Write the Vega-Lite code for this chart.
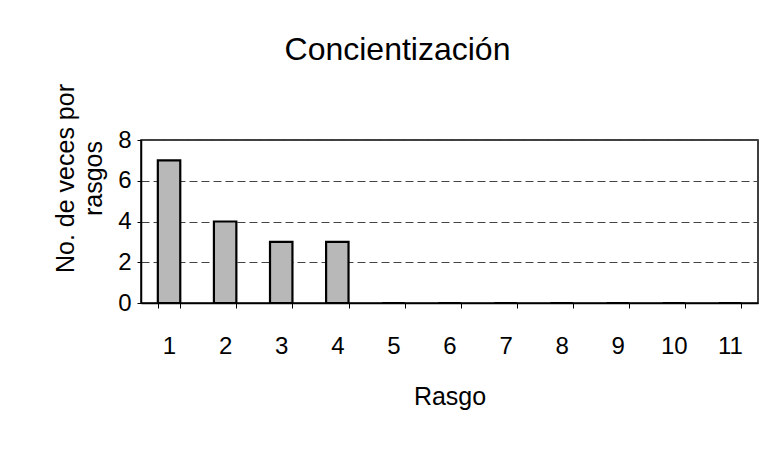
{
  "$schema": "https://vega.github.io/schema/vega-lite/v6.json",
  "autosize": "none",
  "padding": {"left": 141, "top": 140, "right": 11, "bottom": 148},
  "width": 617,
  "height": 163,
  "background": "white",
  "title": {
    "text": "Concientización",
    "font": "Liberation Sans",
    "fontSize": 32,
    "fontWeight": "normal",
    "color": "black",
    "anchor": "middle",
    "dx": -52,
    "offset": 17
  },
  "config": {
    "view": {"stroke": "black", "strokeWidth": 1.5},
    "axis": {
      "labelFont": "Liberation Sans",
      "titleFont": "Liberation Sans",
      "labelColor": "black",
      "titleColor": "black",
      "domainColor": "black",
      "tickColor": "black"
    }
  },
  "data": {
    "values": [
      {"rasgo": 1, "veces": 7},
      {"rasgo": 2, "veces": 4},
      {"rasgo": 3, "veces": 3},
      {"rasgo": 4, "veces": 3},
      {"rasgo": 5, "veces": 0},
      {"rasgo": 6, "veces": 0},
      {"rasgo": 7, "veces": 0},
      {"rasgo": 8, "veces": 0},
      {"rasgo": 9, "veces": 0},
      {"rasgo": 10, "veces": 0},
      {"rasgo": 11, "veces": 0}
    ]
  },
  "mark": {"type": "bar", "fill": "#b8b8b8", "stroke": "black", "strokeWidth": 2.2},
  "encoding": {
    "x": {
      "field": "rasgo",
      "type": "ordinal",
      "scale": {"paddingInner": 0.6, "paddingOuter": 0.3},
      "axis": {
        "title": "Rasgo",
        "labelAngle": 0,
        "labelFontSize": 24,
        "titleFontSize": 25,
        "titleFontWeight": "normal",
        "tickBand": "extent",
        "tickSize": 5,
        "labelPadding": 26,
        "titlePadding": 26,
        "domainWidth": 1.5
      }
    },
    "y": {
      "field": "veces",
      "type": "quantitative",
      "scale": {"domain": [0, 8]},
      "axis": {
        "title": ["No. de veces por", "rasgos"],
        "values": [0, 2, 4, 6, 8],
        "labelFontSize": 24,
        "titleFontSize": 25,
        "titleFontWeight": "normal",
        "titleAngle": -90,
        "titleBaseline": "middle",
        "titleLineHeight": 28,
        "titleX": -76,
        "titleY": 38,
        "tickSize": 4,
        "labelPadding": 6,
        "domainWidth": 1.5,
        "grid": true,
        "gridColor": "#444",
        "gridDash": [8, 4],
        "gridWidth": 1
      }
    }
  }
}
